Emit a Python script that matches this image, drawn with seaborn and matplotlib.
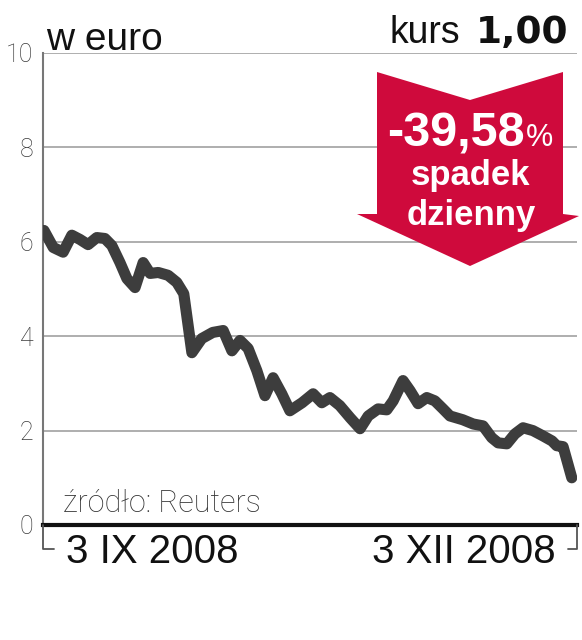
# kurs akcji od 3 IX do 3 XII 2008 - wykres liniowy z czerwona strzalka spadku
import numpy as np
import pandas as pd
import matplotlib
matplotlib.use("Agg")
import matplotlib.pyplot as plt
import seaborn as sns
from matplotlib.patches import Polygon
from matplotlib.lines import Line2D

# dni kalendarzowe od 3 IX 2008 i kurs w euro
days = [0.0, 1.6, 3.3, 4.8, 6.2, 7.6, 9.1, 10.5, 11.7, 13.1, 14.3, 15.7, 17.1,
        18.3, 19.7, 21.4, 22.9, 24.1, 25.5, 27.2, 29.1, 30.9, 32.4, 33.8, 35.2,
        36.7, 38.1, 39.5, 41.0, 42.4, 44.5, 46.4, 47.9, 49.3, 51.0, 52.8, 54.5,
        55.9, 57.6, 59.1, 60.2, 61.9, 63.1, 64.5, 66.0, 67.4, 68.8, 70.0, 72.2,
        74.0, 75.7, 77.2, 78.3, 79.8, 81.2, 82.6, 84.3, 86.0, 87.6, 88.4, 89.5,
        91.0]
price = [6.24, 5.88, 5.78, 6.14, 6.05, 5.94, 6.09, 6.07, 5.92, 5.56, 5.22, 5.03,
         5.56, 5.33, 5.35, 5.29, 5.14, 4.90, 3.65, 3.95, 4.08, 4.12, 3.69, 3.91,
         3.74, 3.27, 2.74, 3.12, 2.78, 2.42, 2.59, 2.78, 2.59, 2.70, 2.53, 2.27,
         2.04, 2.31, 2.46, 2.44, 2.63, 3.06, 2.85, 2.57, 2.70, 2.63, 2.46, 2.31,
         2.23, 2.14, 2.10, 1.85, 1.74, 1.72, 1.93, 2.06, 2.00, 1.89, 1.78, 1.68,
         1.66, 1.00]
y_ticks = [0, 2, 4, 6, 8, 10]
x_labels = ["3 IX 2008", "3 XII 2008"]
last_price = "1,00"
change = "-39,58"

df = pd.DataFrame({"day": days, "price": price})

sns.set_style("white")
plt.rcParams["font.family"] = ["Liberation Sans", "DejaVu Sans"]

W, H = 582, 640
fig = plt.figure(figsize=(W / 100, H / 100), dpi=100)


# pozycje w pikselach obrazka -> ulamki figury
def fx(px):
    return px / W


def fy(py):
    return 1 - py / H


ax = fig.add_axes([fx(43), fy(525), fx(577) - fx(43), fy(53) - fy(525)])

sns.lineplot(data=df, x="day", y="price", ax=ax, color="#3d3d3d", linewidth=8,
             solid_capstyle="round", solid_joinstyle="round", zorder=3)

ax.set_xlim(-0.17, 91.9)
ax.set_ylim(0, 10)
ax.set_yticks(y_ticks)
ax.set_yticklabels([str(t) for t in y_ticks], family=["Roboto", "DejaVu Sans"],
                   fontweight="light", fontsize=18, color="#3a3a3a")
ax.set_xticks([])
ax.tick_params(axis="y", length=0, pad=7)
ax.set_xlabel("")
ax.set_ylabel("")
ax.grid(axis="y", color="#a8a8a8", linewidth=1.3, zorder=0)
ax.set_axisbelow(True)
for s in ["top", "right"]:
    ax.spines[s].set_visible(False)
ax.spines["left"].set_color("#777777")
ax.spines["left"].set_linewidth(1.5)
ax.spines["bottom"].set_color("#111111")
ax.spines["bottom"].set_linewidth(3)

# klamry pod osia
fig.add_artist(Line2D([fx(43), fx(43), fx(54)], [fy(525), fy(549), fy(549)],
                      color="#555555", linewidth=1.3))
fig.add_artist(Line2D([fx(568), fx(577), fx(577)], [fy(549), fy(549), fy(525)],
                      color="#555555", linewidth=1.3))

# podpisy osi x
fig.text(fx(66), fy(563), x_labels[0], fontsize=29, ha="left", va="baseline",
         color="#111111")
fig.text(fx(556), fy(563), x_labels[1], fontsize=29, ha="right", va="baseline",
         color="#111111")

fig.text(fx(63), fy(512), "źródło: Reuters", family=["Roboto", "DejaVu Sans"],
         fontweight="light", fontsize=22, color="#333333", va="baseline")

# naglowki
fig.text(fx(46), fy(50), "w euro", family=["Liberation Sans Narrow", "Liberation Sans"],
         fontsize=28, va="baseline", color="#111111")
fig.text(fx(568), fy(43), last_price, family="DejaVu Sans", fontweight="bold",
         fontsize=27, ha="right", va="baseline", color="#111111")
fig.text(fx(460), fy(43), "kurs", fontsize=27, ha="right", va="baseline",
         color="#111111")

# czerwona strzalka
red = "#cf0a3c"
arrow = [(377, 72), (470, 100), (563, 72), (563, 214), (579, 216), (470, 266),
         (357, 214), (377, 214)]
fig.add_artist(Polygon([(fx(a), fy(b)) for a, b in arrow], closed=True,
                       facecolor=red, edgecolor="none", zorder=5))
fig.text(fx(525), fy(147), change, fontsize=35, fontweight="bold", ha="right",
         va="baseline", color="white", zorder=6)
fig.text(fx(526), fy(146), "%", fontsize=22, ha="left", va="baseline",
         color="white", zorder=6)
fig.text(fx(470), fy(185), "spadek", fontsize=25, fontweight="bold", ha="center",
         va="baseline", color="white", zorder=6)
fig.text(fx(471), fy(225), "dzienny", fontsize=25, fontweight="bold", ha="center",
         va="baseline", color="white", zorder=6)

fig.savefig("out.png", dpi=100)
